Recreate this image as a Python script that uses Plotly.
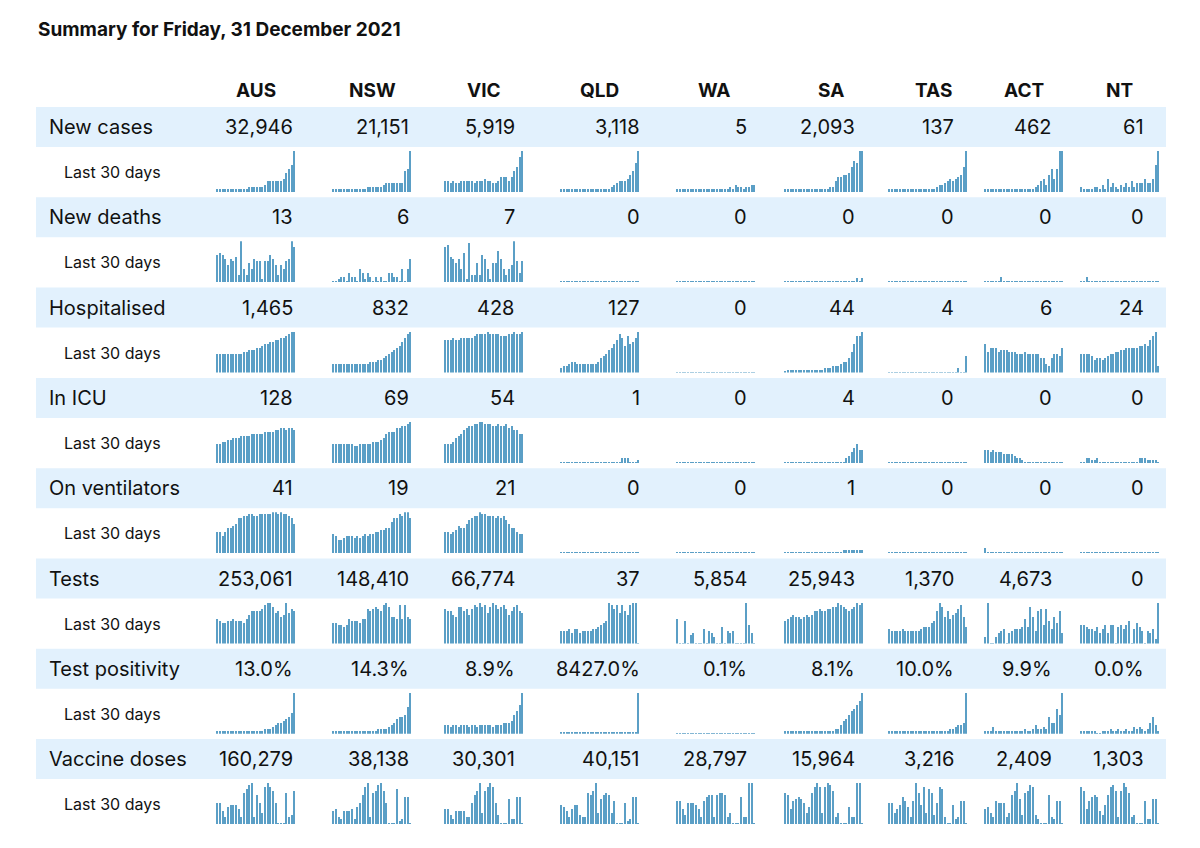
import numpy as np
import plotly.graph_objects as go

W, H = 1200, 848

regions = ["AUS", "NSW", "VIC", "QLD", "WA", "SA", "TAS", "ACT", "NT"]
metrics = ["New cases", "New deaths", "Hospitalised", "In ICU", "On ventilators",
           "Tests", "Test positivity", "Vaccine doses"]

new_cases = ["32,946", "21,151", "5,919", "3,118", "5", "2,093", "137", "462", "61"]
new_deaths = ["13", "6", "7", "0", "0", "0", "0", "0", "0"]
hospitalised = ["1,465", "832", "428", "127", "0", "44", "4", "6", "24"]
in_icu = ["128", "69", "54", "1", "0", "4", "0", "0", "0"]
ventilators = ["41", "19", "21", "0", "0", "1", "0", "0", "0"]
tests = ["253,061", "148,410", "66,774", "37", "5,854", "25,943", "1,370", "4,673", "0"]
positivity = ["13.0%", "14.3%", "8.9%", "8427.0%", "0.1%", "8.1%", "10.0%", "9.9%", "0.0%"]
vaccines = ["160,279", "38,138", "30,301", "40,151", "28,797", "15,964", "3,216", "2,409", "1,303"]
values = [new_cases, new_deaths, hospitalised, in_icu, ventilators, tests, positivity, vaccines]

# last 30 days, relative bar heights (0-20) per region
cases_30 = [
    [1,1,1,1,1,1,1,1,1,1,1,1,2,2,2,2,2,2,3,5,5,5,5,5,5,6,9,11,13,20],
    [1,1,1,1,1,1,1,1,1,1,1,1,1,2,2,2,2,2,2,3,4,4,4,4,4,4,4,10,11,20],
    [5,5,4,5,4,4,5,5,5,5,5,4,5,5,5,6,5,5,4,4,5,7,7,7,5,7,10,12,17,20],
    [1,1,1,1,1,1,1,1,1,1,1,1,1,1,1,1,1,1,1,2,3,4,5,5,5,6,8,10,14,20],
    [1,1,1,1,1,1,1,1,1,1,1,1,1,1,1,1,1,1,1,1,2,1,3,2,2,1,2,2,3,3],
    [1,1,1,1,1,1,1,1,1,1,1,1,1,1,1,1,1,2,2,5,7,7,8,8,9,12,15,14,20,20],
    [1,1,1,1,1,1,1,1,1,1,1,1,1,1,1,1,1,1,2,3,3,4,5,6,5,6,7,8,12,20],
    [1,1,1,1,1,1,1,1,1,1,1,1,1,1,1,1,1,1,1,2,3,5,6,3,8,11,6,11,20,20],
    [2,1,1,1,1,2,2,1,3,1,6,2,4,2,1,3,2,4,2,5,2,4,4,4,6,4,4,6,13,20],
]
deaths_30 = [
    [13,14,13,11,8,11,10,12,3,20,6,3,9,6,11,10,10,1,10,10,13,11,8,3,8,6,10,11,20,17],
    [0,0,1,2,2,0,4,2,2,0,6,4,1,4,2,0,2,0,2,0,0,4,4,2,2,0,6,0,6,11],
    [17,18,12,11,9,11,6,14,1,19,3,3,9,3,13,11,6,1,9,9,15,11,6,3,6,8,20,10,4,10],
    [0]*30,
    [0]*30,
    [0,0,0,0,0,0,0,0,0,0,0,0,0,0,0,0,0,0,0,0,0,0,0,0,0,0,0,1.5,0,1.5],
    [0]*30,
    [0,0,0,0,0,0,2,0,0,0,0,0,0,0,0,0,0,0,0,0,0,0,0,0,0,0,0,0,0,0],
    [0,0,2,0,0,0,0,0,0,0,0,0,0,0,0,0,0,0,0,0,0,0,0,0,0,0,0,0,0,0],
]
hosp_30 = [
    [9,9,9,9,9,9,9,9,9,9,10,10,11,11,11,12,12,13,14,14,15,15,16,16,17,17,18,19,20,20],
    [4,4,4,4,4,4,4,4,4,4,4,4,4,4,5,5,5,6,6,7,8,9,10,11,12,13,15,17,19,20],
    [16,16,16,17,16,16,17,17,17,17,17,18,19,19,19,19,20,19,19,19,19,18,18,18,19,19,20,19,19,20],
    [2,3,3,4,5,5,4,4,4,4,4,4,4,4,5,7,8,9,11,12,14,16,19,17,13,18,14,15,17,20],
    [0]*30,
    [0.5,1,1,1,1,1,1,1,1,1,1,1,1,1,1,2,2,2,3,3,3,4,5,5,7,10,14,18,18,20],
    [0,0,0,0,0,0,0,0,0,0,0,0,0,0,0,0,0,0,0,0,0,0,0,0,0,0,2,0,0,8],
    [14,10,12,12,12,10,11,11,11,10,10,10,9,9,9,10,9,9,9,9,9,7,7,4,3,7,9,9,8,12],
    [9,9,9,9,8,6,7,7,6,7,8,9,9,10,10,11,11,12,12,12,12,12,13,13,14,13,16,18,20,3],
]
icu_30 = [
    [9,9,10,10,11,11,12,12,12,13,13,13,13,14,14,14,14,14,15,15,15,15,16,16,17,17,16,17,17,16],
    [9,9,9,9,9,9,9,9,8,8,9,9,9,9,9,10,10,10,11,12,14,15,15,15,17,17,18,18,19,20],
    [9,9,9,10,12,13,14,16,17,18,18,19,19,20,20,19,19,19,18,18,19,18,18,19,17,18,16,16,14,14],
    [0,0,0,0,0,0,0,0,0,0,0,0,0,0,0,0,0,0,0,0,0,0,0,2,2,2,0,0,0,1],
    [0]*30,
    [0,0,0,0,0,0,0,0,0,0,0,0,0,0,0,0,0,0,0,0,0,0,0,2,3,5,7,9,6,6],
    [0]*30,
    [6,6,5,6,5,5,5,4,4,4,4,3,2,2,1,0,0,0,0,0,0,0,0,0,0,0,0,0,0,0],
    [0,0,2,2,1,1,2,0,0,0,0,0,0,0,0,0,0,0,0,0,0,0,2,2,2,1,1,1,1,0],
]
vent_30 = [
    [10,10,8,10,12,12,13,14,17,17,18,18,19,19,18,18,19,19,19,19,19,20,20,19,20,19,19,18,17,14],
    [9,8,6,6,7,8,8,8,7,8,7,8,9,8,9,9,10,10,11,11,12,12,15,17,17,19,18,20,20,17],
    [10,10,9,10,11,13,12,12,14,16,17,18,18,20,19,19,18,18,18,17,18,17,18,16,14,12,12,10,9,9],
    [0]*30,
    [0]*30,
    [0,0,0,0,0,0,0,0,0,0,0,0,0,0,0,0,0,0,0,0,0,0,1,1,1,1,1,1,1,1],
    [0]*30,
    [2,0,0,0,0,0,0,0,0,0,0,0,0,0,0,0,0,0,0,0,0,0,0,0,0,0,0,0,0,0],
    [0]*30,
]
tests_30 = [
    [12,11,10,10,11,11,12,11,11,11,10,12,14,16,16,16,16,17,19,20,20,18,15,16,13,14,20,15,17,16],
    [10,10,9,9,8,9,12,11,11,11,10,12,12,17,16,17,18,17,16,19,20,18,13,13,12,19,12,19,13,12],
    [17,16,16,14,13,18,18,16,17,14,17,19,18,20,18,19,15,18,20,19,17,18,19,17,14,16,18,19,16,15],
    [6,6,6,7,5,7,7,5,6,6,6,6,7,7,8,9,10,11,20,19,17,19,15,19,16,14,19,20,20,0],
    [12,0,0,11,0,4,5,0,0,0,7,0,6,5,3,0,0,8,0,6,5,6,0,0,0,0,20,9,5,0],
    [11,12,13,14,13,13,12,13,14,13,14,16,16,17,16,16,17,17,18,18,20,19,18,17,16,17,18,20,19,20],
    [7,6,6,6,6,7,6,6,6,6,6,6,7,8,8,8,10,11,16,20,18,13,16,12,14,15,17,19,13,8],
    [3,20,0,0,3,5,6,7,0,5,6,7,7,7,8,12,8,18,13,6,16,17,9,17,11,7,13,10,16,5],
    [9,9,8,7,7,6,8,5,7,9,5,9,9,0,8,9,7,9,11,0,7,10,8,6,0,6,5,7,2,20],
]
pos_30 = [
    [1,1,1,1,1,1,1,1,1,1,1,1,1,1,1,1,1,1,2,2,2,3,4,5,5,6,7,8,10,20],
    [1,1,1,1,1,1,1,1,1,1,1,1,1,1,1,1,1,2,2,2,2,3,4,5,7,8,8,9,13,20],
    [4,4,3,4,4,3,4,4,4,3,4,4,3,4,4,4,4,4,3,4,4,4,5,5,5,6,9,11,14,20],
    [0.5,0.5,0.5,0.5,0.5,0.5,0.5,0.5,0.5,0.5,0.5,0.5,0.5,0.5,0.5,0.5,0.5,0.5,0.5,0.5,0.5,0.5,0.5,0.5,0.5,0.5,0.5,0.5,0.5,20],
    [0]*30,
    [1,1,1,1,1,1,1,1,1,1,1,1,1,1,1,1,1,1,1,2,2,4,6,7,9,11,12,14,16,20],
    [1,1,1,1,1,1,1,1,1,1,1,1,1,1,1,1,1,1,1,1,1,1,1,2,2,3,4,4,5,20],
    [1,1,1,3,1,1,1,1,1,1,1,1,1,1,1,2,1,1,2,4,2,2,3,2,8,5,5,12,9,20],
    [1,1,1,1,1,1,0,0,1,1,1,2,1,1,2,1,1,2,1,1,3,2,3,2,1,2,5,8,4,1],
]
vacc_30 = [
    [10,10,6,3,8,9,9,9,7,3,15,17,19,20,3,14,10,5,18,20,18,16,10,0,0,0,15,3,4,16],
    [6,7,3,2,6,6,6,7,2,8,10,14,18,20,3,15,16,19,20,16,10,0,0,0,17,1,2,13,13,0],
    [7,7,4,2,6,6,6,6,3,3,10,14,16,20,5,16,18,20,18,10,4,0,0,0,12,2,2,13,13,0],
    [9,8,6,3,7,9,9,4,3,3,15,14,16,20,5,12,14,15,14,5,11,0,0,0,10,1,2,13,13,0],
    [11,11,7,4,10,10,10,9,7,3,11,13,14,14,3,14,15,15,14,3,5,0,0,0,13,3,3,20,20,0],
    [15,14,7,11,12,13,12,10,5,8,15,18,20,18,5,18,20,19,16,3,5,0,0,0,8,3,3,20,20,0],
    [10,10,5,7,9,13,11,8,3,11,20,15,9,18,5,17,15,4,10,18,17,3,0,0,9,2,3,11,11,0],
    [7,8,5,3,11,10,10,10,3,5,14,16,20,12,4,15,16,19,18,4,2,0,0,0,14,3,2,11,11,0],
    [18,16,7,11,13,14,13,6,4,9,14,18,19,16,3,16,20,18,15,3,4,0,0,0,11,2,2,12,12,0],
]
sparks = [cases_30, deaths_30, hosp_30, icu_30, vent_30, tests_30, pos_30, vacc_30]

# layout in pixels (page coordinates)
val_right = [296, 412, 518, 643, 750, 858, 957, 1055, 1147]
head_x = [257, 373, 485, 600, 716, 832, 935, 1025, 1120]
spark_left = [217, 333, 445, 561, 677, 785, 889, 985, 1081]
spark_w = 80
row0, pitch = 127, 90.3
band_h = 40
FONT = "Inter, Noto Sans, sans-serif"
BAR = "#5b9fc6"
BAND = "#e2f1fd"
OFF_X, OFF_Y = 9, 8  # page body margin

px = lambda x: (x - OFF_X) / W
py = lambda y: 1 - (y - OFF_Y) / H

fig = go.Figure()
shapes, annotations = [], []

annotations.append(dict(x=px(37), y=py(30), xref="paper", yref="paper", text="<b>Summary for Friday, 31 December 2021</b>",
                        showarrow=False, xanchor="left", yanchor="middle", font=dict(size=19, color="#111", family=FONT)))
for r, hx in zip(regions, head_x):
    annotations.append(dict(x=px(hx), y=py(90), xref="paper", yref="paper", text=f"<b>{r}</b>", showarrow=False,
                            xanchor="center", yanchor="middle", font=dict(size=19, color="#111", family=FONT)))

k = 0
for i, m in enumerate(metrics):
    yc = row0 + pitch * i
    shapes.append(dict(type="rect", xref="paper", yref="paper", x0=px(37), x1=px(1167),
                       y0=py(yc - band_h / 2), y1=py(yc + band_h / 2), fillcolor=BAND, line_width=0, layer="below"))
    annotations.append(dict(x=px(48), y=py(yc), xref="paper", yref="paper", text=m, showarrow=False,
                            xanchor="left", yanchor="middle", font=dict(size=20, color="#111", family=FONT)))
    annotations.append(dict(x=px(63), y=py(yc + 45), xref="paper", yref="paper", text="Last 30 days", showarrow=False,
                            xanchor="left", yanchor="middle", font=dict(size=16, color="#111", family=FONT)))
    for j, v in enumerate(values[i]):
        annotations.append(dict(x=px(val_right[j]), y=py(yc), xref="paper", yref="paper", text=v, showarrow=False,
                                xanchor="right", yanchor="middle", font=dict(size=20, color="#111", family=FONT)))
    for j in range(len(regions)):
        k += 1
        s = np.array(sparks[i][j], dtype=float)
        xa, ya = ("x", "y") if k == 1 else (f"x{k}", f"y{k}")
        fig.add_trace(go.Bar(x=np.arange(len(s)), y=s + 0.5, base=-0.5, marker_color=BAR, marker_line_width=0,
                             width=0.55, xaxis=xa, yaxis=ya, showlegend=False, hoverinfo="skip"))
        axn = "" if k == 1 else str(k)
        fig.update_layout(**{
            f"xaxis{axn}": dict(domain=[px(spark_left[j]), px(spark_left[j] + spark_w)], range=[-0.6, 29.6],
                                visible=False, fixedrange=True, anchor=f"y{axn}"),
            f"yaxis{axn}": dict(domain=[py(yc + 65), py(yc + 24)], range=[-0.5, 20.2],
                                visible=False, fixedrange=True, anchor=f"x{axn}"),
        })

fig.update_layout(width=W, height=H, margin=dict(l=0, r=0, t=0, b=0), paper_bgcolor="white",
                  plot_bgcolor="rgba(0,0,0,0)", shapes=shapes, annotations=annotations, bargap=0)
fig.write_html("out.html")
